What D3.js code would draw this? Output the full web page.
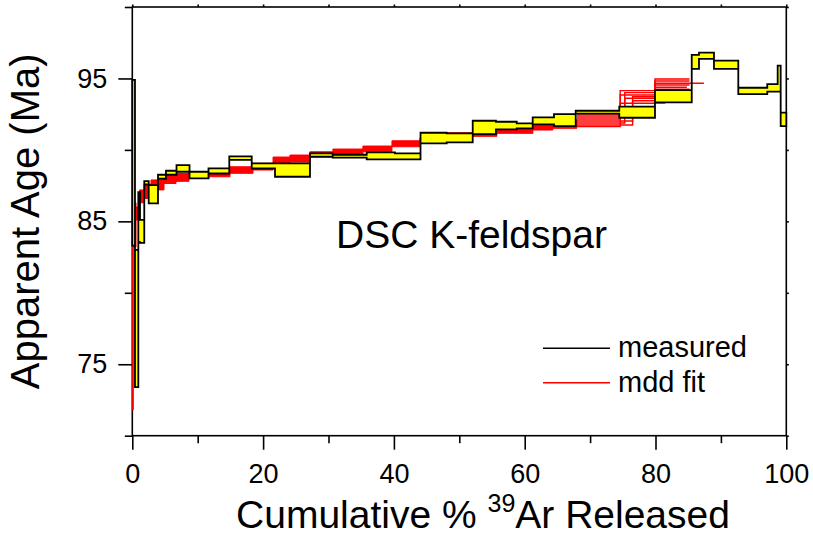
<!DOCTYPE html>
<html>
<head>
<meta charset="utf-8">
<script src="https://cdn.jsdelivr.net/npm/d3@7"></script>
<style>
  html, body { margin: 0; padding: 0; background: #fff; }
  svg { display: block; }
  text { font-family: "Liberation Sans", Arial, sans-serif; fill: #000; }
  .tick text { font-family: "Liberation Sans", Arial, sans-serif; font-size: 27px; }
</style>
</head>
<body>
<svg id="chart" width="813" height="540"></svg>
<script>
// Measured step-heating spectrum: cumulative % 39Ar at step boundaries
const stepEdges = [0, 0.41, 0.92, 1.18, 1.83, 2.51, 3.93, 5.15, 6.76, 8.75,
  11.65, 14.83, 18.26, 21.82, 27.17, 30.64, 35.84, 40.17, 44.07, 48.07,
  52.05, 55.61, 58.78, 61.22, 64.48, 67.80, 74.46, 79.92, 85.54, 86.65,
  88.94, 92.66, 97.09, 98.68, 99.14, 100];
// Apparent age (Ma) of each step and its error half-width
const stepAges = [89.1, 78.2, 85.3, 84.3, 87.7, 86.9, 88.12, 88.4, 88.7, 88.24,
  88.53, 89.42, 88.88, 88.59, 89.64, 89.56, 89.58, 89.55, 90.83, 90.84,
  91.57, 91.70, 91.68, 92.03, 92.09, 92.64, 92.64, 93.76, 96.16, 96.59,
  95.96, 94.13, 94.34, 94.99, 92.14];
const stepErrors = [5.8, 4.8, 1.75, 0.8, 0.12, 0.64, 0.14, 0.14, 0.23, 0.23,
  0.18, 0.12, 0.18, 0.47, 0.12, 0.1, 0.25, 0.21, 0.37, 0.32,
  0.47, 0.27, 0.18, 0.25, 0.42, 0.1, 0.39, 0.43, 0.49, 0.22,
  0.29, 0.22, 0.26, 0.91, 0.47];

// MDD model spectra: envelope of the fitted runs over the early release
const fitEdges = [0, 0.15, 0.57, 1.1, 1.8, 2.86, 4.85, 6.68, 8.67, 11.73,
  14.94, 18.46, 21.52, 24.1, 27.16, 30.67, 35.26, 39.7, 43.98, 47.8,
  52.08, 55.75, 61.25, 64.31, 67.98];
const fitHigh = [83.7, 86.3, 86.0, 87.2, 87.6, 87.9, 88.2, 88.35, 88.47, 88.5,
  88.82, 89.06, 89.5, 89.64, 89.87, 90.06, 90.27, 90.64, 90.83, 91.2,
  91.2, 91.5, 91.74, 92.1];
const fitLow = [71.8, 83.2, 85.1, 86.3, 86.6, 87.2, 87.65, 87.8, 88.0, 88.12,
  88.36, 88.59, 89.0, 89.15, 89.52, 89.68, 89.87, 90.22, 90.48, 90.9,
  90.95, 91.16, 91.39, 91.51];

// Individual MDD runs over the late release, where they separate
const runStart = 67.98;
const runEdgeC = [74.6, 75.3, 74.6, 76.5, 75.3, 76.5, 74.6];
const runEdgeD = 79.92;
const runEnd = [85.2, 85.2, 87.4, 85.2, 84.8, 85.2, 81.5];
const runAgeA = [92.44, 92.30, 92.16, 92.02, 91.88, 91.74, 91.64];
const runAgeC = [94.15, 94.01, 93.84, 93.72, 93.61, 93.44, 93.26];
const runAgeD = [94.96, 94.82, 94.66, 94.54, 94.38, 94.24, 93.28];

const xTicks = [0, 20, 40, 60, 80, 100];
const xMinorTicks = [10, 30, 50, 70, 90];
const yTicks = [75, 85, 95];
const yMinorTicks = [70, 80, 90, 100];

const svg = d3.select("#chart");
const x = d3.scaleLinear().domain([0, 100]).range([132.3, 786.3]);
const y = d3.scaleLinear().domain([70, 100]).range([435.7, 7]);

// axes and frame (drawn first so the spectra sit on top)
function styleAxis(g) {
  g.select(".domain").remove();
  g.selectAll(".tick line").attr("stroke", "#000").attr("stroke-width", 1.6);
}
svg.append("g").attr("transform", `translate(0,${y(70)})`)
  .call(d3.axisBottom(x).tickValues(xTicks).tickSize(14).tickPadding(14).tickFormat(d3.format("d")))
  .call(styleAxis);
svg.append("g").attr("transform", `translate(0,${y(70)})`)
  .call(d3.axisBottom(x).tickValues(xMinorTicks).tickSize(7.5).tickFormat(""))
  .call(styleAxis);
svg.append("g").attr("transform", `translate(${x(0)},0)`)
  .call(d3.axisLeft(y).tickValues(yTicks).tickSize(14).tickPadding(11).tickFormat(d3.format("d")))
  .call(styleAxis);
svg.append("g").attr("transform", `translate(${x(0)},0)`)
  .call(d3.axisLeft(y).tickValues(yMinorTicks).tickSize(7.5).tickFormat(""))
  .call(styleAxis);
svg.append("g").attr("transform", `translate(0,${y(100)})`)
  .call(d3.axisTop(x).tickValues(d3.range(0, 101, 10)).tickSize(2.5).tickFormat(""))
  .call(styleAxis);
svg.append("g").attr("transform", `translate(${x(100)},0)`)
  .call(d3.axisRight(y).tickValues(d3.range(70, 101, 5)).tickSize(2.5).tickFormat(""))
  .call(styleAxis);

svg.append("rect")
  .attr("x", x(0)).attr("y", y(100))
  .attr("width", x(100) - x(0)).attr("height", y(70) - y(100))
  .attr("fill", "none").attr("stroke", "#000").attr("stroke-width", 1.6);

const stepArea = d3.area()
  .curve(d3.curveStepAfter)
  .x(d => x(d.x))
  .y0(d => y(d.lo))
  .y1(d => y(d.hi));

// model envelope
const fitData = fitHigh.map((h, i) => ({ x: fitEdges[i], lo: fitLow[i], hi: h }));
fitData.push({ x: fitEdges[fitEdges.length - 1], lo: fitLow[fitLow.length - 1], hi: fitHigh[fitHigh.length - 1] });
svg.append("path")
  .attr("d", stepArea(fitData))
  .attr("fill", "#ff0000")
  .attr("stroke", "#ff0000")
  .attr("stroke-width", 1);

// separate model runs
const runLine = d3.line().curve(d3.curveStepAfter).x(d => x(d[0])).y(d => y(d[1]));
runAgeA.forEach((a, i) => {
  const pts = [[runStart, a], [runEdgeC[i], runAgeC[i]], [runEdgeD, runAgeD[i]], [runEnd[i], runAgeD[i]]];
  svg.append("path")
    .attr("d", runLine(pts))
    .attr("fill", "none")
    .attr("stroke", "#ff0000")
    .attr("stroke-width", 1.4);
});

// measured spectrum as error boxes
const stepData = stepAges.map((a, i) => ({ x: stepEdges[i], lo: a - stepErrors[i], hi: a + stepErrors[i] }));
const last = stepData[stepData.length - 1];
stepData.push({ x: stepEdges[stepEdges.length - 1], lo: last.lo, hi: last.hi });
svg.append("path")
  .attr("d", stepArea(stepData))
  .attr("fill", "#ffff00")
  .attr("stroke", "#000")
  .attr("stroke-width", 1.8)
  .attr("stroke-linejoin", "miter");

// titles
svg.append("text")
  .attr("transform", `translate(39,${(y(70) + y(100)) / 2}) rotate(-90)`)
  .attr("text-anchor", "middle")
  .attr("font-size", 40)
  .text("Apparent Age (Ma)");

const xt = svg.append("text")
  .attr("x", 483).attr("y", 528)
  .attr("text-anchor", "middle")
  .attr("font-size", 39);
xt.append("tspan").text("Cumulative % ");
xt.append("tspan").attr("font-size", 25).attr("dy", -16).text("39");
xt.append("tspan").attr("dy", 16).text("Ar Released");

svg.append("text")
  .attr("x", 336).attr("y", 248)
  .attr("font-size", 39)
  .text("DSC K-feldspar");

// legend
const legend = [
  { label: "measured", color: "#000", y: 348.3 },
  { label: "mdd fit", color: "#ff0000", y: 382.7 }
];
legend.forEach(l => {
  svg.append("line")
    .attr("x1", 543).attr("x2", 610)
    .attr("y1", l.y).attr("y2", l.y)
    .attr("stroke", l.color).attr("stroke-width", 1.5);
  svg.append("text")
    .attr("x", 618).attr("y", l.y + 9)
    .attr("font-size", 29)
    .text(l.label);
});
</script>
</body>
</html>
